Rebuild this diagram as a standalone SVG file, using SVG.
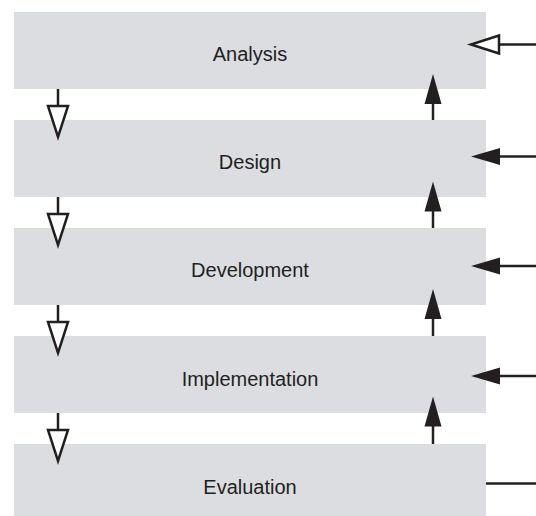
<svg xmlns="http://www.w3.org/2000/svg" width="536" height="516" viewBox="0 0 536 516">
<style>
.box{fill:#dcdde0}
.lbl{font-family:"Liberation Sans",Arial,sans-serif;font-size:20px;fill:#231f20;text-anchor:middle}
.ln{stroke:#231f20;stroke-width:2.5;fill:none}
.fh{fill:#231f20;stroke:none}
.oh{fill:#ffffff;stroke:#231f20;stroke-width:2.5;stroke-linejoin:miter}
</style>
<rect width="536" height="516" fill="#ffffff"/>
<g id="analysis"><rect class="box" x="14" y="12" width="472" height="77"/><text class="lbl" x="250" y="61">Analysis</text></g>
<g id="design"><rect class="box" x="14" y="120" width="472" height="77"/><text class="lbl" x="250" y="169">Design</text></g>
<g id="development"><rect class="box" x="14" y="228" width="472" height="77"/><text class="lbl" x="250" y="277">Development</text></g>
<g id="implementation"><rect class="box" x="14" y="336" width="472" height="77"/><text class="lbl" x="250" y="385.5">Implementation</text></g>
<g id="evaluation"><rect class="box" x="14" y="444" width="472" height="72"/><text class="lbl" x="250" y="494">Evaluation</text></g>
<g id="connectors">
<!-- down arrows (left) -->
<line class="ln" x1="58" y1="89" x2="58" y2="106"/><polygon class="oh" points="48,106 68,106 58,137"/>
<line class="ln" x1="58" y1="197" x2="58" y2="214"/><polygon class="oh" points="48,214 68,214 58,245"/>
<line class="ln" x1="58" y1="305" x2="58" y2="322"/><polygon class="oh" points="48,322 68,322 58,353"/>
<line class="ln" x1="58" y1="413" x2="58" y2="430"/><polygon class="oh" points="48,430 68,430 58,461"/>
<!-- up arrows (right inside) -->
<line class="ln" x1="433" y1="120" x2="433" y2="100"/><polygon class="fh" points="424.5,104 441.5,104 433,74"/>
<line class="ln" x1="433" y1="228" x2="433" y2="208"/><polygon class="fh" points="424.5,211.5 441.5,211.5 433,181.5"/>
<line class="ln" x1="433" y1="336" x2="433" y2="315"/><polygon class="fh" points="424.5,319 441.5,319 433,289"/>
<line class="ln" x1="433" y1="444" x2="433" y2="423"/><polygon class="fh" points="424.5,426.5 441.5,426.5 433,396.5"/>
<!-- incoming arrows (right edge) -->
<line class="ln" x1="536" y1="44.5" x2="500" y2="44.5"/><polygon class="oh" points="499,35.5 499,53.5 471,44.5"/>
<line class="ln" x1="536" y1="156.5" x2="497" y2="156.5"/><polygon class="fh" points="500,148 500,165 471,156.5"/>
<line class="ln" x1="536" y1="266" x2="497" y2="266"/><polygon class="fh" points="500,257.5 500,274.5 471,266"/>
<line class="ln" x1="536" y1="376" x2="497" y2="376"/><polygon class="fh" points="500,367.5 500,384.5 471,376"/>
<line class="ln" x1="536" y1="483.5" x2="486" y2="483.5"/>
</g>
</svg>
